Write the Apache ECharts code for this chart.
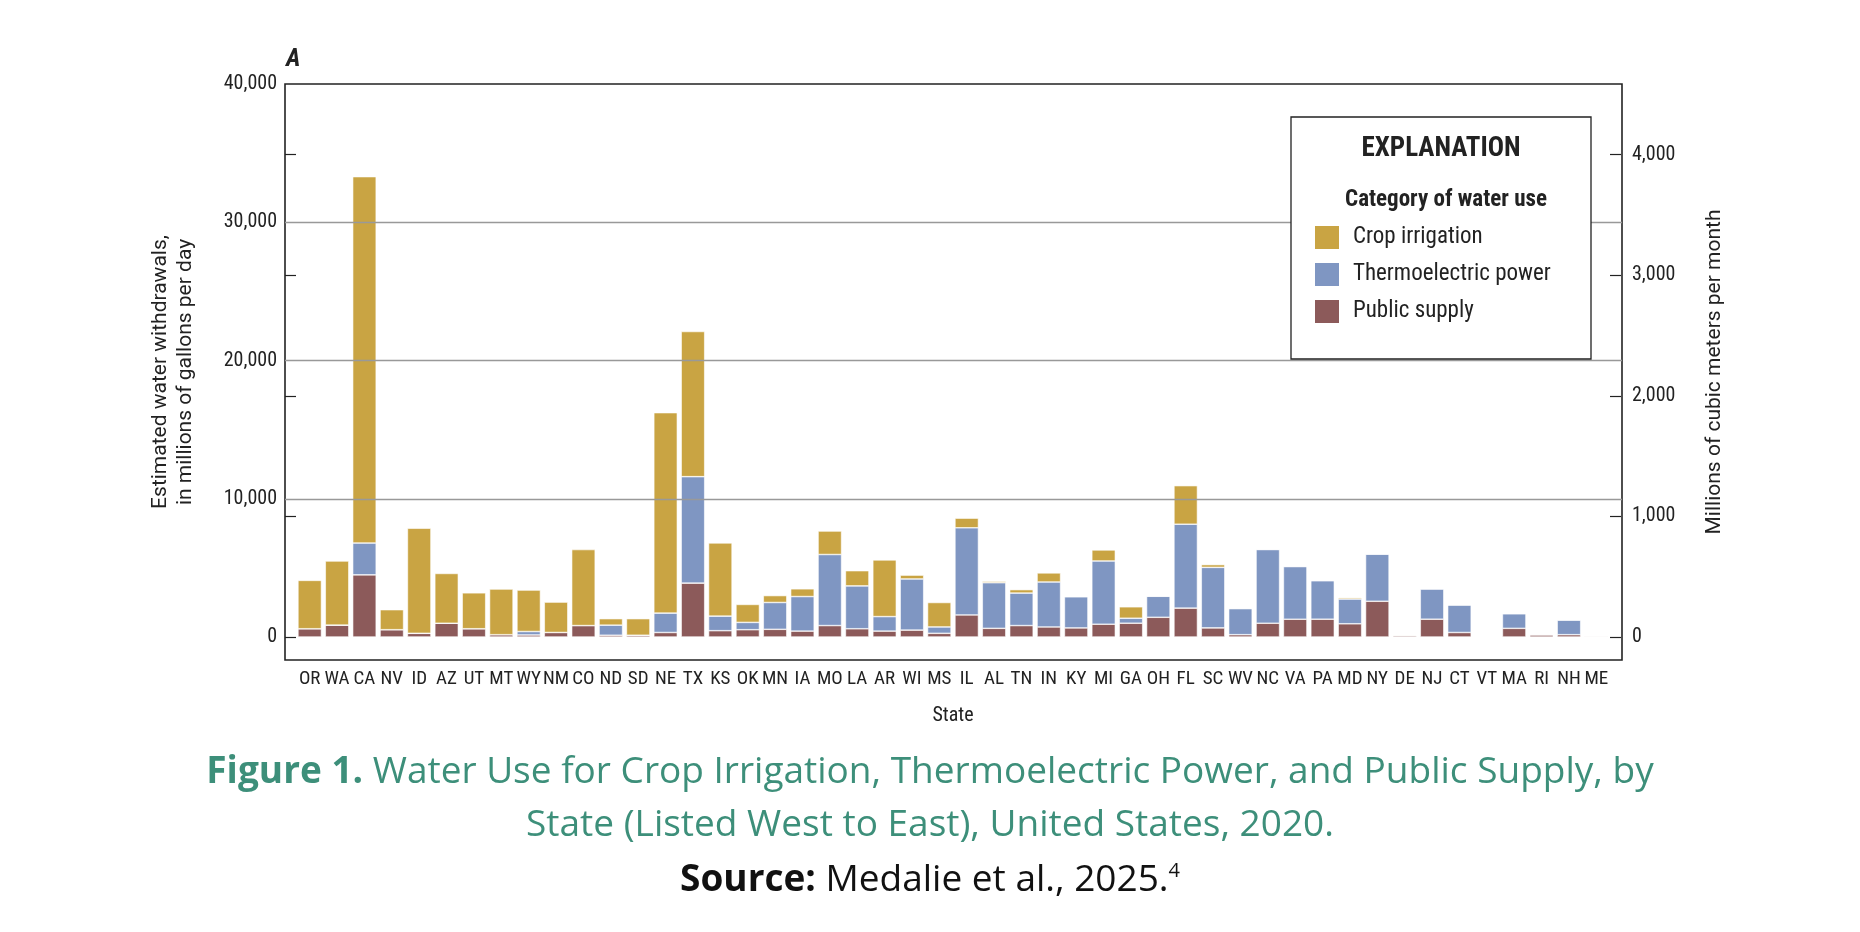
<!DOCTYPE html>
<html><head><meta charset="utf-8">
<script src="https://cdn.jsdelivr.net/npm/echarts@6/dist/echarts.min.js"></script>
<style>html,body{margin:0;padding:0;background:#fff}#c{width:1860px;height:932px}</style>
</head><body><div id="c"></div>
<script>
const states = ['OR','WA','CA','NV','ID','AZ','UT','MT','WY','NM','CO','ND','SD','NE','TX','KS','OK','MN','IA','MO','LA','AR','WI','MS','IL','AL','TN','IN','KY','MI','GA','OH','FL','SC','WV','NC','VA','PA','MD','NY','DE','NJ','CT','VT','MA','RI','NH','ME'];
const publicSupply = [600,860,4500,530,270,1000,600,170,150,330,830,130,130,330,3900,460,530,560,430,830,600,430,500,270,1600,630,830,730,660,930,1000,1430,2090,660,170,1000,1290,1290,960,2590,100,1290,330,30,630,150,170,70];
const thermo = [0,0,2300,0,0,0,0,0,250,0,0,730,0,1400,7700,1050,530,1940,2500,5140,3100,1050,3700,460,6300,3300,2350,3250,2260,4570,360,1520,6070,4380,1890,5330,3810,2790,1790,3410,0,2190,1990,0,1060,50,1060,0];
const irrigation = [3500,4640,26500,1450,7600,3600,2600,3300,3000,2200,5500,470,1200,14500,10500,5300,1300,500,560,1700,1100,4100,280,1770,700,100,250,660,0,800,830,0,2790,200,0,0,0,0,100,0,50,0,0,20,0,0,0,30];
const leftLabels = [0,10000,20000,30000,40000];
const rightLabels = [0,1000,2000,3000,4000];
const conv = 8.723; // Mgal/d per Mm3/month
const F = "'Roboto Condensed','Liberation Sans Narrow','Roboto',sans-serif";
const C = "'Open Sans',sans-serif";
const chart = echarts.init(document.getElementById('c'));
const leftMin = -1660, leftMax = 40000;
const barStyle = c => ({color:c, borderColor:'#fff', borderWidth:0.6});
chart.setOption({
  animation:false,
  grid:{left:296,right:250,top:84,bottom:272,show:false,containLabel:false},
  legend:{orient:'vertical',left:1308,top:219,itemWidth:26,itemHeight:25,itemGap:10,z:20,
    data:['Crop irrigation','Thermoelectric power','Public supply'],
    textStyle:{fontFamily:F,fontSize:23,color:'#222',padding:[0,0,0,8]},icon:'rect'},
  xAxis:[
    {type:'category',data:states,position:'bottom',
     axisLine:{show:false},axisTick:{inside:true,length:11,alignWithLabel:true,lineStyle:{color:'#222',width:1.2}},
     axisLabel:{fontFamily:F,fontSize:19,color:'#222',margin:10,interval:0},
     name:'State',nameLocation:'middle',nameGap:46,nameTextStyle:{fontFamily:F,fontSize:20,color:'#222'}},
    {type:'category',data:states,position:'top',
     axisLine:{show:false},axisTick:{inside:true,length:11,alignWithLabel:true,lineStyle:{color:'#222',width:1.2}},
     axisLabel:{show:false}}
  ],
  yAxis:[
    {type:'value',min:leftMin,max:leftMax,position:'left',
     axisLine:{show:false},splitLine:{show:false},
     axisTick:{show:true,inside:false,length:11,customValues:rightLabels.map(v=>v*conv),lineStyle:{color:'#222',width:1.2}},
     axisLabel:{customValues:leftLabels,fontFamily:F,fontSize:20,color:'#222',margin:19,formatter:v=>v.toLocaleString('en-US')},
     name:'Estimated water withdrawals,\nin millions of gallons per day',nameLocation:'middle',nameGap:98,nameRotate:90,
     nameTextStyle:{fontFamily:"'Roboto',sans-serif",fontSize:21,color:'#222',lineHeight:25}},
    {type:'value',min:leftMin/conv,max:leftMax/conv,position:'right',
     axisLine:{show:false},splitLine:{show:false},
     axisTick:{show:true,inside:false,length:11,customValues:rightLabels,lineStyle:{color:'#222',width:1.2}},
     axisLabel:{customValues:rightLabels,fontFamily:F,fontSize:20,color:'#222',margin:22,formatter:v=>v.toLocaleString('en-US')},
     name:'Millions of cubic meters per month',nameLocation:'middle',nameGap:94,nameRotate:90,
     nameTextStyle:{fontFamily:"'Roboto',sans-serif",fontSize:21,color:'#222'}}
  ],
  series:[
    {type:'line',data:[],z:1,silent:true,
     markLine:{symbol:'none',silent:true,label:{show:false},lineStyle:{color:'#999',type:'solid',width:1.3},
       data:[[{x:285,yAxis:10000},{x:1622,yAxis:10000}],[{x:285,yAxis:20000},{x:1622,yAxis:20000}],[{x:285,yAxis:30000},{x:1622,yAxis:30000}]]}},
    {name:'Public supply',type:'bar',stack:'s',data:publicSupply,itemStyle:barStyle('#8C5A5A'),barCategoryGap:'14%',z:3},
    {name:'Thermoelectric power',type:'bar',stack:'s',data:thermo,itemStyle:barStyle('#7F96C2'),z:3},
    {name:'Crop irrigation',type:'bar',stack:'s',data:irrigation,itemStyle:barStyle('#C9A443'),z:3}
  ],
  graphic:[
    {type:'rect',shape:{x:285,y:84,width:1337,height:576},style:{fill:'none',stroke:'#222',lineWidth:1.6},z:5},
    {type:'rect',shape:{x:1291,y:117,width:300,height:242},style:{fill:'#fff',stroke:'#222',lineWidth:1.3},z:10},
    {type:'text',x:1441,y:149,style:{text:'EXPLANATION',font:"bold 27px "+F,fill:'#222',align:'center',verticalAlign:'middle'},z:11},
    {type:'text',x:1446,y:200,style:{text:'Category of water use',font:"bold 23px "+F,fill:'#222',align:'center',verticalAlign:'middle'},z:11},
    {type:'text',x:286,y:60,style:{text:'A',font:"italic bold 25px "+F,fill:'#222',verticalAlign:'middle'}},
    {type:'text',x:930,y:772,style:{rich:{b:{font:"bold 37px "+C,fill:'#3D8F7A'},n:{font:"37px "+C,fill:'#3D8F7A'}},text:'{b|Figure 1.}{n| Water Use for Crop Irrigation, Thermoelectric Power, and Public Supply, by}',align:'center',verticalAlign:'middle'}},
    {type:'text',x:930,y:825,style:{text:'State (Listed West to East), United States, 2020.',font:"37px "+C,fill:'#3D8F7A',align:'center',verticalAlign:'middle'}},
    {type:'text',x:930,y:880,style:{rich:{b:{font:"bold 37px "+C,fill:'#111'},n:{font:"37px "+C,fill:'#111'},s:{font:"20px "+C,fill:'#111',verticalAlign:'top',padding:[0,0,14,0]}},text:'{b|Source:}{n| Medalie et al., 2025.}{s|4}',align:'center',verticalAlign:'middle'}}
  ]
});
</script></body></html>
